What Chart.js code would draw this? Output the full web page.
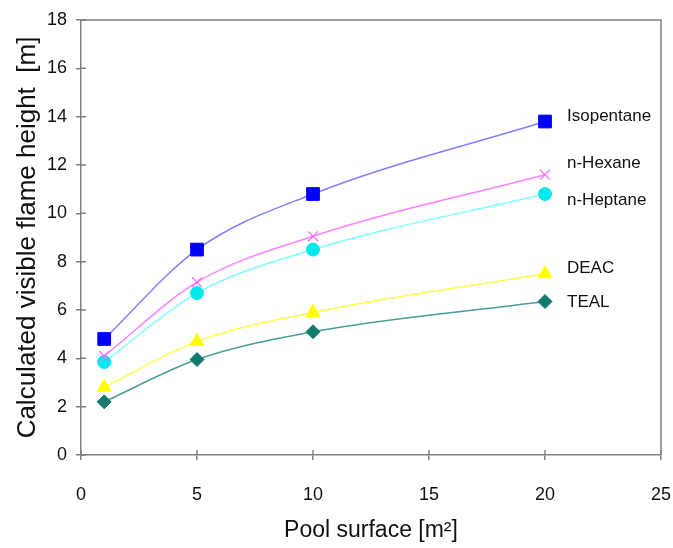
<!DOCTYPE html>
<html>
<head>
<meta charset="utf-8">
<script src="https://cdn.jsdelivr.net/npm/chart.js@4/dist/chart.umd.min.js"></script>
<style>
  html, body { margin: 0; padding: 0; background: #fff; }
  #wrap { width: 673px; height: 548px; }
</style>
</head>
<body>
<div id="wrap"><canvas id="chart"></canvas></div>
<script>
// pool surface [m2]
const surface = [1, 5, 10, 20];

// calculated visible flame height [m]
const isopentane = [4.8, 8.5, 10.8, 13.8];
const nHexane    = [4.1, 7.15, 9.05, 11.6];
const nHeptane   = [3.85, 6.7, 8.5, 10.8];
const deac       = [2.8, 4.7, 5.9, 7.5];
const teal       = [2.2, 3.95, 5.1, 6.35];

const xTicks = [0, 5, 10, 15, 20, 25];
const yTicks = [0, 2, 4, 6, 8, 10, 12, 14, 16, 18];

const SANS = '"Liberation Sans", Arial, sans-serif';

const pts = vals => surface.map((x, i) => ({ x: x, y: vals[i] }));

function series(label, vals, line, mark, style, r, labelDy) {
  return {
    label: label,
    data: pts(vals),
    borderColor: line,
    borderWidth: 1.5,
    pointStyle: style,
    pointRadius: r,
    pointBackgroundColor: mark,
    pointBorderColor: mark,
    pointBorderWidth: style === 'crossRot' ? 1.2 : 1,
    cubicInterpolationMode: 'monotone',
    labelDy: labelDy
  };
}

// text at the end of each curve + box round the plot
const endLabels = {
  id: 'endLabels',
  afterDatasetsDraw(chart) {
    const ctx = chart.ctx;
    const a = chart.chartArea;
    ctx.save();
    ctx.strokeStyle = '#808080';
    ctx.lineWidth = 1.5;
    ctx.beginPath();
    ctx.moveTo(a.left, a.top);
    ctx.lineTo(a.right, a.top);
    ctx.lineTo(a.right, a.bottom);
    ctx.stroke();
    // ticks crossing into the plot
    ctx.beginPath();
    const xs = chart.scales.x, ys = chart.scales.y;
    xTicks.forEach(v => { const px = xs.getPixelForValue(v); ctx.moveTo(px, a.bottom); ctx.lineTo(px, a.bottom - 5); });
    yTicks.forEach(v => { const py = ys.getPixelForValue(v); ctx.moveTo(a.left, py); ctx.lineTo(a.left + 5, py); });
    ctx.stroke();

    ctx.fillStyle = '#111';
    ctx.font = '17px ' + SANS;
    ctx.textBaseline = 'middle';
    chart.data.datasets.forEach((ds, i) => {
      const el = chart.getDatasetMeta(i).data[ds.data.length - 1];
      ctx.fillText(ds.label, el.x + 22, el.y + ds.labelDy);
    });
    ctx.restore();
  }
};

new Chart(document.getElementById('chart'), {
  type: 'line',
  data: {
    datasets: [
      series('Isopentane', isopentane, '#8080ff', '#0000ff', 'rect', 9, -5),
      series('n-Hexane', nHexane, '#ff80ff', '#ff66ff', 'crossRot', 7, -11),
      series('n-Heptane', nHeptane, '#80ffff', '#00e8f0', 'circle', 6.5, 6),
      series('DEAC', deac, '#ffff50', '#ffff00', 'triangle', 8, -5),
      series('TEAL', teal, '#4a9e94', '#137a6e', 'rectRot', 7, 1)
    ]
  },
  options: {
    responsive: true,
    maintainAspectRatio: false,
    animation: false,
    layout: { padding: { top: 20, right: 12, left: 0, bottom: 0 } },
    plugins: {
      legend: { display: false },
      tooltip: { enabled: false }
    },
    scales: {
      x: {
        type: 'linear',
        min: 0,
        max: 25,
        afterBuildTicks: s => { s.ticks = xTicks.map(v => ({ value: v })); },
        afterFit: s => { s.height = 93; s.paddingLeft = 0; s.paddingRight = 0; },
        ticks: { color: '#111', font: { size: 18, family: SANS }, padding: 24 },
        grid: { display: true, drawOnChartArea: false, color: '#808080', tickLength: 5, lineWidth: 1.5 },
        border: { color: '#808080', width: 1.5 },
        title: { display: true, text: 'Pool surface [m²]', color: '#111',
                 font: { size: 23, family: SANS }, padding: { top: 0, bottom: 4 } }
      },
      y: {
        min: 0,
        max: 18,
        afterBuildTicks: s => { s.ticks = yTicks.map(v => ({ value: v })); },
        afterFit: s => { s.width = 81; },
        ticks: { color: '#111', font: { size: 18, family: SANS }, padding: 9 },
        grid: { display: true, drawOnChartArea: false, color: '#808080', tickLength: 5, lineWidth: 1.5 },
        border: { color: '#808080', width: 1.5 },
        title: { display: true, text: 'Calculated visible flame height  [m]', color: '#111',
                 font: { size: 26, family: SANS }, padding: { top: 12, bottom: 0 } }
      }
    }
  },
  plugins: [endLabels]
});
</script>
</body>
</html>
